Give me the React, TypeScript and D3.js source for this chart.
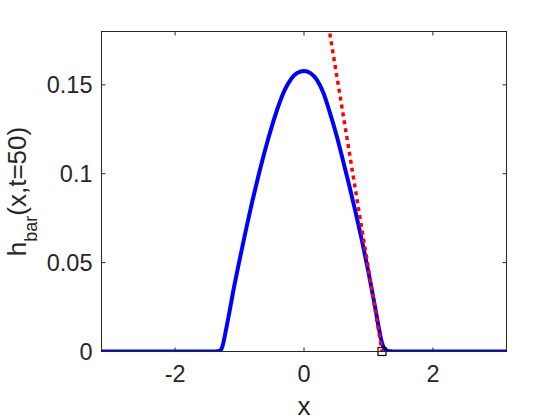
import React from "react";
import * as d3 from "d3";

// Blue curve: h_bar(x, t=50)
const curveX = [-Math.PI, -1.4, -1.35, -1.3, -1.275, -1.25, -1.225, -1.2, -1.15, -1.1, -1.0, -0.9, -0.8, -0.7, -0.6, -0.5, -0.4, -0.3, -0.2, -0.1, 0.0, 0.1, 0.2, 0.3, 0.4, 0.5, 0.6, 0.7, 0.8, 0.9, 1.0, 1.1, 1.15, 1.2, 1.225, 1.25, 1.3, 1.35, 1.4, Math.PI];
const curveH = [0, 0, 0.0001, 0.0006, 0.0018, 0.005, 0.0095, 0.014, 0.0235, 0.0335, 0.0514, 0.0686, 0.0848, 0.0998, 0.1138, 0.1265, 0.1378, 0.147, 0.1533, 0.1568, 0.1578, 0.1566, 0.1528, 0.1455, 0.1345, 0.1222, 0.1082, 0.0936, 0.0784, 0.0622, 0.0446, 0.0255, 0.0154, 0.0062, 0.0032, 0.0014, 0.0004, 0.0001, 0, 0];

// Red dotted tangent line
const tangentX = [0.3, 1.21];
const tangentH = [0.2011, 0];

// Square marker (front position)
const markerX = [1.21];
const markerH = [0];

const xTicks = [-2, 0, 2];
const xTickLabels = ["-2", "0", "2"];
const yTicks = [0, 0.05, 0.1, 0.15];
const yTickLabels = ["0", "0.05", "0.1", "0.15"];

const W = 560;
const H = 420;
const L = 101.5;
const R = 506.5;
const T = 31.5;
const B = 351.5;
const AX = "#262626";
const FONT = "'Liberation Sans', Arial, Helvetica, sans-serif";

export default function App() {
  const x = d3.scaleLinear().domain([-Math.PI, Math.PI]).range([L, R]);
  const y = d3.scaleLinear().domain([0, 0.18]).range([B, T]);

  const line = d3
    .line<[number, number]>()
    .x((d) => x(d[0]))
    .y((d) => y(d[1]))
    .curve(d3.curveMonotoneX);

  const blue = curveX.map((v, i) => [v, curveH[i]] as [number, number]);
  const red = tangentX.map((v, i) => [v, tangentH[i]] as [number, number]);
  const tl = 4;

  return (
    <svg
      width={W}
      height={H}
      style={{ position: "absolute", left: 0, top: 0, background: "#fff" }}
      fontFamily={FONT}
    >
      <defs>
        <clipPath id="plotclip">
          <rect x={L} y={T} width={R - L} height={B - T} />
        </clipPath>
      </defs>
      <rect x={0} y={0} width={W} height={H} fill="#fff" />

      {/* ticks */}
      {xTicks.map((t) => (
        <g key={"xt" + t}>
          <line x1={x(t)} x2={x(t)} y1={B} y2={B - tl} stroke={AX} strokeWidth={1} />
          <line x1={x(t)} x2={x(t)} y1={T} y2={T + tl} stroke={AX} strokeWidth={1} />
        </g>
      ))}
      {yTicks.map((t) => (
        <g key={"yt" + t}>
          <line x1={L} x2={L + tl} y1={y(t)} y2={y(t)} stroke={AX} strokeWidth={1} />
          <line x1={R} x2={R - tl} y1={y(t)} y2={y(t)} stroke={AX} strokeWidth={1} />
        </g>
      ))}

      <g clipPath="url(#plotclip)">
        <path d={line(blue) || ""} fill="none" stroke="#0000ff" strokeWidth={4} strokeLinejoin="round" />
        <path
          d={d3.line<[number, number]>().x((d) => x(d[0])).y((d) => y(d[1]))(red) || ""}
          fill="none"
          stroke="#ff0000"
          strokeWidth={3.5}
          strokeDasharray="4 4"
        />
      </g>
      {markerX.map((v, i) => (
        <rect
          key={"m" + i}
          x={x(v) - 4}
          y={y(markerH[i]) - 4}
          width={8}
          height={8}
          fill="none"
          stroke="#000"
          strokeWidth={1.2}
        />
      ))}

      {/* box */}
      <rect x={L} y={T} width={R - L} height={B - T} fill="none" stroke={AX} strokeWidth={1} />

      {/* tick labels */}
      {xTicks.map((t, i) => (
        <text key={"xl" + t} x={x(t)} y={381.5} textAnchor="middle" fontSize={23.5} fill={AX}>
          {xTickLabels[i]}
        </text>
      ))}
      {yTicks.map((t, i) => (
        <text key={"yl" + t} x={L - 9} y={y(t)} dy="0.35em" textAnchor="end" fontSize={23.5} fill={AX}>
          {yTickLabels[i]}
        </text>
      ))}

      {/* axis labels */}
      <text x={(L + R) / 2} y={414.5} textAnchor="middle" fontSize={26} fill={AX}>
        x
      </text>
      <text
        transform={`translate(25.5, ${(T + B) / 2}) rotate(-90)`}
        textAnchor="middle"
        fontSize={26}
        fill={AX}
      >
        h
        <tspan fontSize={18} dy={11}>
          bar
        </tspan>
        <tspan dy={-11}>(x,t=50)</tspan>
      </text>
    </svg>
  );
}
